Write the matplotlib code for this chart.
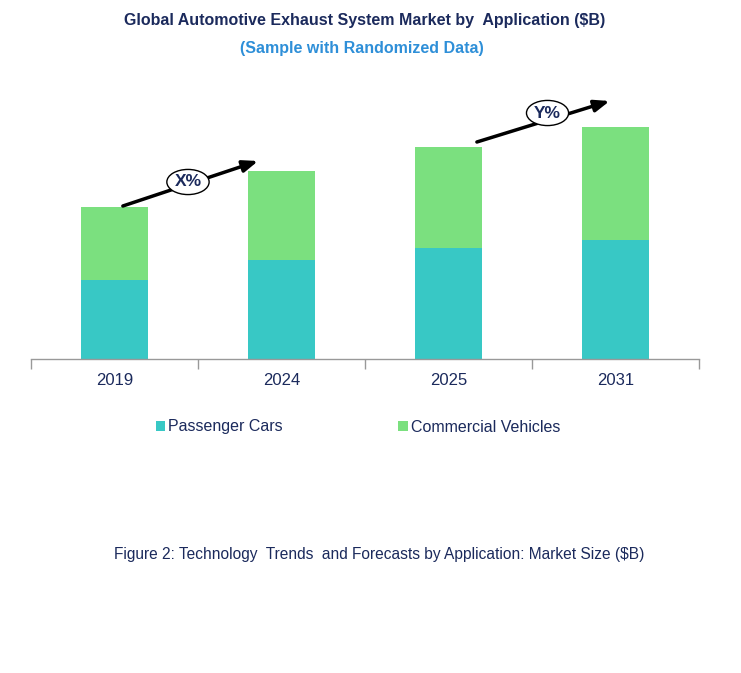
import matplotlib
matplotlib.use("Agg")
import matplotlib.pyplot as plt

years = ["2019", "2024", "2025", "2031"]
passenger_cars = [7.9, 9.9, 11.1, 11.9]
commercial_vehicles = [7.3, 8.9, 10.1, 11.3]
series_names = ["Passenger Cars", "Commercial Vehicles"]
growth_labels = ["X%", "Y%"]

plt.rcParams['font.family'] = ['Liberation Sans', 'DejaVu Sans']

C_PC = "#38C8C5"
C_CV = "#7BE07F"
NAVY = "#1B2A5C"

fig = plt.figure(figsize=(7.41, 6.73), dpi=100)
ax = fig.add_axes([31/741, (673-359)/673, 668/741, (359-80)/673])

x = list(range(len(years)))
ax.bar(x, passenger_cars, width=0.4, color=C_PC, label=series_names[0])
ax.bar(x, commercial_vehicles, width=0.4, bottom=passenger_cars, color=C_CV, label=series_names[1])

ax.set_xlim(-0.5, 3.5)
ax.set_ylim(0, 27.9)
for s in ["top", "right", "left"]:
    ax.spines[s].set_visible(False)
ax.spines["bottom"].set_color("#999999")
ax.spines["bottom"].set_linewidth(1.0)
ax.set_yticks([])
ax.set_xticks([-0.5, 0.5, 1.5, 2.5, 3.5], minor=False)
ax.set_xticklabels([])
ax.tick_params(axis="x", which="major", length=7, color="#999999", width=1.0)
ax.set_xticks(x, minor=True)
ax.set_xticklabels(years, minor=True)
ax.tick_params(axis="x", which="minor", length=0, pad=10, labelsize=12, labelcolor=NAVY)

# growth arrows
arrows = [((0.05, 15.3), (0.86, 19.8), (0.440, 17.7)),
          ((2.17, 21.7), (2.965, 25.8), (2.593, 24.6))]
for (start, end, lab), txt in zip(arrows, growth_labels):
    ax.annotate("", xy=end, xytext=start,
                arrowprops=dict(arrowstyle="-|>,head_length=0.9,head_width=0.35",
                                color="black", lw=2.5, shrinkA=0, shrinkB=0),
                annotation_clip=False)
    ax.text(lab[0], lab[1], txt, ha="center", va="center", fontsize=12.5,
            fontweight="bold", color=NAVY,
            bbox=dict(boxstyle="ellipse,pad=0.08", fc="white", ec="black", lw=1.0),
            zorder=5)

fig.text(365/741, 1 - 20/673, "Global Automotive Exhaust System Market by  Application ($B)",
         ha="center", va="center", fontsize=11.5, fontweight="bold", color=NAVY)
fig.text(362/741, 1 - 49/673, "(Sample with Randomized Data)",
         ha="center", va="center", fontsize=11.5, fontweight="bold", color="#2E8FD8")

handles, labels = ax.get_legend_handles_labels()
leg = fig.legend(handles, labels, loc="center", bbox_to_anchor=(358/741, 1 - 427/673),
                 ncol=2, frameon=False, fontsize=11.5, handlelength=0.6, handleheight=0.6,
                 handletextpad=0.2, columnspacing=7.2)
for t in leg.get_texts():
    t.set_color(NAVY)

fig.text(379/741, 1 - 554/673,
         "Figure 2: Technology  Trends  and Forecasts by Application: Market Size ($B)",
         ha="center", va="center", fontsize=11.2, color=NAVY)

fig.savefig("out.png", dpi=100)
